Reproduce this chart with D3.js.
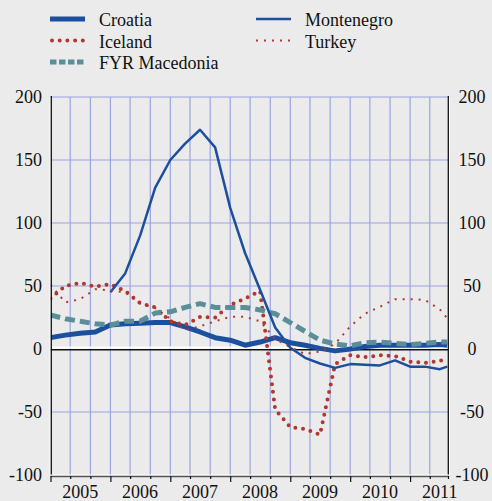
<!DOCTYPE html>
<html lang="en">
<head>
<meta charset="UTF-8">
<title>real house prices</title>
<script src="https://cdn.jsdelivr.net/npm/d3@7"></script>
<style>
	body { margin: 0; background: #ebebeb; }
</style>
</head>
<body>
<div id="chart"></div>
<script type="text/javascript">
// quarterly observations, last one is the latest month
let dates = ["2005-01-01", "2005-04-01", "2005-07-01", "2005-10-01",
	"2006-01-01", "2006-04-01", "2006-07-01", "2006-10-01",
	"2007-01-01", "2007-04-01", "2007-07-01", "2007-10-01",
	"2008-01-01", "2008-04-01", "2008-07-01", "2008-10-01",
	"2009-01-01", "2009-04-01", "2009-07-01", "2009-10-01",
	"2010-01-01", "2010-04-01", "2010-07-01", "2010-10-01",
	"2011-01-01", "2011-04-01", "2011-07-01", "2011-08-15"];

let croatia = [9, 11, 12.5, 13.5, 19, 20, 20.5, 21, 21, 17.5, 13.5, 9, 7, 3, 5.5, 9, 5, 3, 0.5, -1.5, 0, 2, 3, 3, 3, 3, 3.5, 3];
let iceland = [40, 50, 52.5, 49.5, 51.5, 46, 36.5, 33, 22, 19, 25.5, 25, 35, 40, 46, -48, -62, -63.5, -68, -12, -5, -6.5, -5, -5.5, -10, -11, -9.5, -7];
let fyrMacedonia = [27, 24, 22, 20, 19, 22, 22, 28.5, 29.5, 33, 36, 33, 33, 33, 31, 28, 21, 14, 7, 4, 2.5, 5, 5.5, 4.5, 3.5, 4.5, 5.5, 5.5];
let montenegro = [null, null, null, null, 45, 60, 90, 128, 150, 163, 174, 160, 112, 76, 47, 17, 1, -7, -11.5, -15, -12, -12.5, -13, -9, -14, -14, -16, -14];
let turkey = [51, 37, 39.5, 47.5, 46.5, 45, 36, 32.5, 24, 15, 18, 22, 25.5, 25.5, 22, 8, 1.5, -4, -2, 4, 18, 28, 33.5, 39.5, 39.5, 39, 31.5, 24.5];

let yTicks = [-100, -50, 0, 50, 100, 150, 200];
let yearLabels = [2005, 2006, 2007, 2008, 2009, 2010, 2011];

let width = 492,
	height = 501;
let plot = { left: 50.5, right: 448, top: 97, bottom: 475 };
let serif = "'Times New Roman', Tinos, 'Liberation Serif', 'DejaVu Serif', 'Noto Serif', serif";

let blue = '#1c4f9e',
	red = '#b2372e',
	teal = '#5a8e99',
	grid = '#9aa4e0';

let series = [
	{ name: 'Croatia', values: croatia, color: blue, width: 5, dash: null, cap: 'butt' },
	{ name: 'Iceland', values: iceland, color: red, width: 4, dash: '0 7.7', cap: 'round' },
	{ name: 'FYR Macedonia', values: fyrMacedonia, color: teal, width: 5, dash: '10 5', cap: 'butt' },
	{ name: 'Montenegro', values: montenegro, color: blue, width: 2.5, dash: null, cap: 'butt' },
	{ name: 'Turkey', values: turkey, color: red, width: 2, dash: '2 6', cap: 'butt' }
];

let parse = d3.timeParse('%Y-%m-%d');
let x = d3.scaleTime()
	.domain([new Date(2005, 0, 1), new Date(2011, 7, 20)])
	.range([plot.left, plot.right]);
let y = d3.scaleLinear()
	.domain([-100, 200])
	.range([plot.bottom, plot.top]);

let svg = d3.select('#chart')
	.append('svg')
	.attr('width', width)
	.attr('height', height)
	.style('font-family', serif);

svg.append('rect')
	.attr('width', width)
	.attr('height', height)
	.attr('fill', '#ebebeb');

// grid
let gridMonths = x.ticks(d3.timeMonth.every(4)).filter(d => x(d) > plot.left + 2);
svg.append('g')
	.selectAll('line')
	.data(gridMonths)
	.enter()
	.append('line')
	.attr('x1', d => x(d)).attr('x2', d => x(d))
	.attr('y1', plot.top).attr('y2', plot.bottom)
	.attr('stroke', grid)
	.attr('stroke-width', 1.2);

svg.append('g')
	.selectAll('line')
	.data(yTicks.filter(d => d !== 0 && d !== -100))
	.enter()
	.append('line')
	.attr('x1', plot.left).attr('x2', plot.right)
	.attr('y1', d => y(d)).attr('y2', d => y(d))
	.attr('stroke', grid)
	.attr('stroke-width', 1.2);

// zero line
svg.append('line')
	.attr('x1', plot.left).attr('x2', plot.right)
	.attr('y1', y(0) - 1.5).attr('y2', y(0) - 1.5)
	.attr('stroke', '#fff').attr('stroke-width', 2);
svg.append('line')
	.attr('x1', plot.left).attr('x2', plot.right)
	.attr('y1', y(0) + 0.8).attr('y2', y(0) + 0.8)
	.attr('stroke', '#111').attr('stroke-width', 1.5);

// lines
svg.append('clipPath').attr('id', 'clip')
	.append('rect')
	.attr('x', plot.left).attr('y', plot.top - 5)
	.attr('width', plot.right - plot.left).attr('height', plot.bottom - plot.top + 5);

let line = d3.line()
	.defined(d => d.v !== null)
	.x(d => x(d.date))
	.y(d => y(d.v));

let lines = svg.append('g').attr('clip-path', 'url(#clip)');
series.forEach(s => {
	let pts = dates.map((d, i) => ({ date: parse(d), v: s.values[i] }));
	lines.append('path')
		.datum(pts)
		.attr('d', line)
		.attr('fill', 'none')
		.attr('stroke', s.color)
		.attr('stroke-width', s.width)
		.attr('stroke-dasharray', s.dash)
		.attr('stroke-linecap', s.cap)
		.attr('stroke-linejoin', 'round');
});

// frame
svg.append('line')
	.attr('x1', plot.left - 0.5).attr('x2', plot.left - 0.5)
	.attr('y1', plot.top).attr('y2', plot.bottom)
	.attr('stroke', '#fff').attr('stroke-width', 1);
svg.append('line')
	.attr('x1', plot.left + 0.8).attr('x2', plot.left + 0.8)
	.attr('y1', plot.top - 1).attr('y2', plot.bottom)
	.attr('stroke', '#111').attr('stroke-width', 1.3);
svg.append('line')
	.attr('x1', plot.right + 1.5).attr('x2', plot.right + 1.5)
	.attr('y1', plot.top).attr('y2', plot.bottom)
	.attr('stroke', '#fff').attr('stroke-width', 1);
svg.append('line')
	.attr('x1', plot.right + 0.3).attr('x2', plot.right + 0.3)
	.attr('y1', plot.top - 1).attr('y2', plot.bottom)
	.attr('stroke', '#111').attr('stroke-width', 1.3);

// bottom axis
svg.append('line')
	.attr('x1', plot.left).attr('x2', plot.right + 1)
	.attr('y1', plot.bottom).attr('y2', plot.bottom)
	.attr('stroke', '#fff').attr('stroke-width', 1);
svg.append('line')
	.attr('x1', plot.left).attr('x2', plot.right + 1)
	.attr('y1', plot.bottom + 1.5).attr('y2', plot.bottom + 1.5)
	.attr('stroke', '#555').attr('stroke-width', 1.5);

let tickMonths = x.ticks(d3.timeMonth.every(4));
svg.append('g')
	.selectAll('line')
	.data(tickMonths)
	.enter()
	.append('line')
	.attr('x1', d => x(d) + 0.5).attr('x2', d => x(d) + 0.5)
	.attr('y1', plot.bottom + 1)
	.attr('y2', d => plot.bottom + (d.getMonth() === 0 ? 7 : 4))
	.attr('stroke', '#111')
	.attr('stroke-width', 1.2);
svg.append('line')
	.attr('x1', plot.right + 0.5).attr('x2', plot.right + 0.5)
	.attr('y1', plot.bottom + 1).attr('y2', plot.bottom + 4)
	.attr('stroke', '#111').attr('stroke-width', 1.2);

svg.append('g')
	.selectAll('text')
	.data(yearLabels)
	.enter()
	.append('text')
	.attr('x', d => x(new Date(d, 6, 1)))
	.attr('y', 498)
	.attr('text-anchor', 'middle')
	.style('font-size', '18px')
	.attr('fill', '#111')
	.text(d => d);

// y labels both sides
svg.append('g')
	.selectAll('text')
	.data(yTicks)
	.enter()
	.append('text')
	.attr('x', 42)
	.attr('y', d => y(d))
	.attr('dy', '0.36em')
	.attr('text-anchor', 'end')
	.style('font-size', '18px')
	.attr('fill', '#111')
	.text(d => d);
svg.append('g')
	.selectAll('text')
	.data(yTicks)
	.enter()
	.append('text')
	.attr('x', 472)
	.attr('y', d => y(d))
	.attr('dy', '0.36em')
	.attr('text-anchor', 'middle')
	.style('font-size', '18px')
	.attr('fill', '#111')
	.text(d => d);

// legend
let legendPos = [
	{ x: 50, y: 19 }, { x: 50, y: 40.5 }, { x: 50, y: 62 },
	{ x: 256, y: 19 }, { x: 256, y: 40.5 }
];
let legend = svg.append('g')
	.selectAll('g')
	.data(series)
	.enter()
	.append('g')
	.attr('transform', (d, i) => `translate(${legendPos[i].x},${legendPos[i].y})`);
legend.append('line')
	.attr('x1', d => d.cap === 'round' ? 2 : 0)
	.attr('x2', 35)
	.attr('stroke', d => d.color)
	.attr('stroke-width', d => d.width)
	.attr('stroke-dasharray', d => d.name === 'FYR Macedonia' ? '6.5 2.5' : d.dash)
	.attr('stroke-linecap', d => d.cap);
legend.append('text')
	.attr('x', 49)
	.attr('y', 7)
	.style('font-size', '18px')
	.attr('fill', '#111')
	.text(d => d.name);
</script>
</body>
</html>
